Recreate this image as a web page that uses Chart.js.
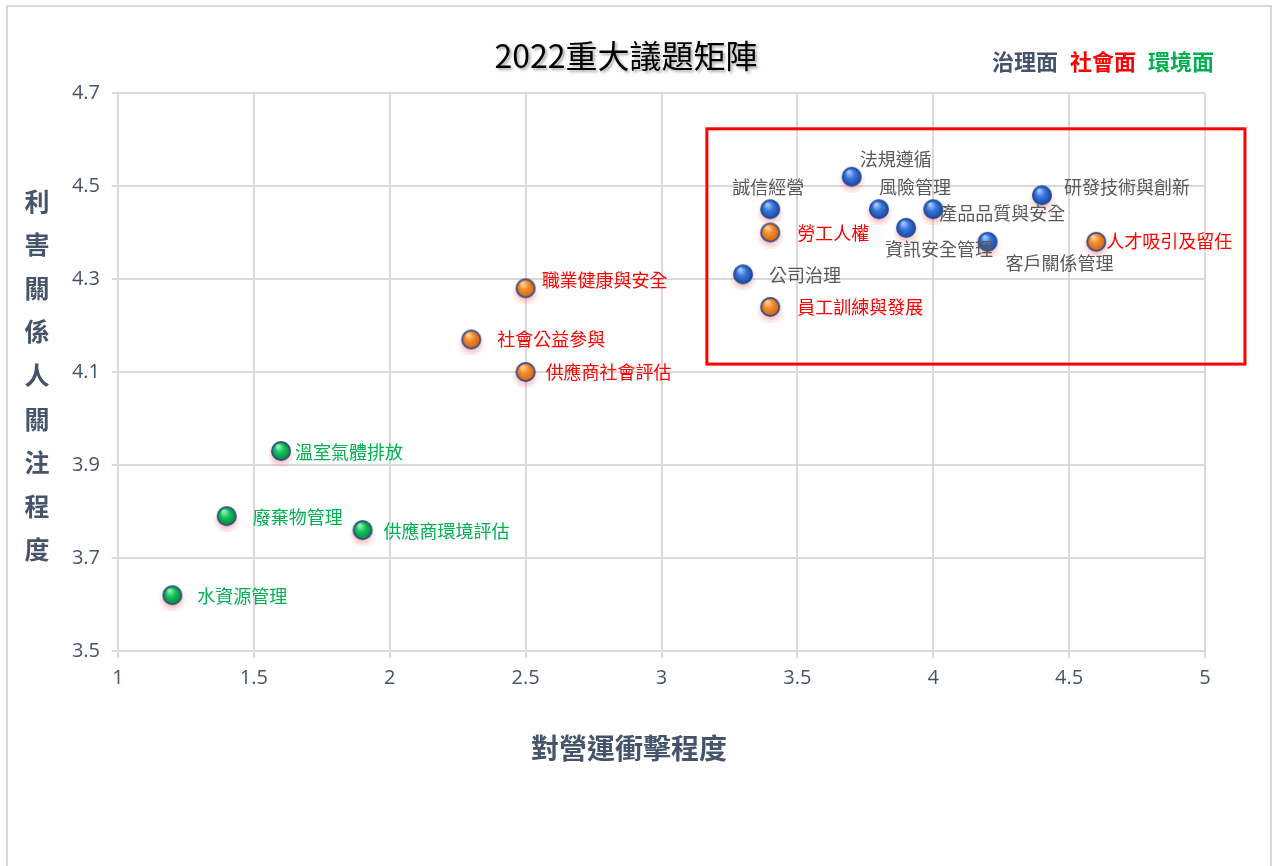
<!DOCTYPE html>
<html lang="zh-Hant">
  <head>
    <meta charset="UTF-8">
    <title>2022重大議題矩陣</title>
    <script src="https://cdn.jsdelivr.net/npm/chart.js"></script>
    <style>
      html, body { margin: 0; padding: 0; background: #fff; }
      #frame {
        position: absolute; left: 6px; top: 5px; width: 1266px; height: 880px;
        border: 2px solid #d9d9d9; box-sizing: border-box;
      }
      #wrap { position: absolute; left: 0; top: 0; width: 1277px; height: 866px; }
    </style>
  </head>
  <body>
    <div id="frame"></div>
    <div id="wrap"><canvas id="matrix" width="1277" height="866"></canvas></div>

    <script>
      // 治理面
      const govNames = ["法規遵循", "誠信經營", "風險管理", "產品品質與安全", "資訊安全管理", "研發技術與創新", "客戶關係管理", "公司治理"];
      const govImpact = [3.7, 3.4, 3.8, 4.0, 3.9, 4.4, 4.2, 3.3];
      const govConcern = [4.52, 4.45, 4.45, 4.45, 4.41, 4.48, 4.38, 4.31];

      // 社會面
      const socNames = ["勞工人權", "人才吸引及留任", "員工訓練與發展", "職業健康與安全", "社會公益參與", "供應商社會評估"];
      const socImpact = [3.4, 4.6, 3.4, 2.5, 2.3, 2.5];
      const socConcern = [4.40, 4.38, 4.24, 4.28, 4.17, 4.10];

      // 環境面
      const envNames = ["溫室氣體排放", "廢棄物管理", "供應商環境評估", "水資源管理"];
      const envImpact = [1.6, 1.4, 1.9, 1.2];
      const envConcern = [3.93, 3.79, 3.76, 3.62];

      const xTicks = [1, 1.5, 2, 2.5, 3, 3.5, 4, 4.5, 5];
      const yTicks = [3.5, 3.7, 3.9, 4.1, 4.3, 4.5, 4.7];

      // highlighted block (impact / concern range)
      const focusBox = { x1: 3.167, x2: 5.147, y1: 4.117, y2: 4.623 };

      const AXIS = "#44546a";
      const CJK = '"Noto Sans CJK TC", "Noto Sans", sans-serif';

      // label placement relative to the marker: [dx, dy, align]
      const labelPos = {
        "法規遵循": [8, -18, "left"],
        "誠信經營": [-2, -22, "center"],
        "風險管理": [0, -22, "left"],
        "產品品質與安全": [6, 4, "left"],
        "資訊安全管理": [-21, 21, "left"],
        "研發技術與創新": [22, -8, "left"],
        "客戶關係管理": [18, 21, "left"],
        "公司治理": [26, 1, "left"],
        "勞工人權": [27, 1, "left"],
        "人才吸引及留任": [10, -1, "left"],
        "員工訓練與發展": [27, 0, "left"],
        "職業健康與安全": [16, -8, "left"],
        "社會公益參與": [26, 0, "left"],
        "供應商社會評估": [20, 0, "left"],
        "溫室氣體排放": [14, 1, "left"],
        "廢棄物管理": [26, 1, "left"],
        "供應商環境評估": [21, 1, "left"],
        "水資源管理": [25, 1, "left"]
      };

      function makeBall(light, mid, dark, rim) {
        const c = document.createElement("canvas");
        c.width = 32; c.height = 32;
        const g = c.getContext("2d");
        const glow = g.createRadialGradient(16, 20, 3, 16, 20, 14);
        glow.addColorStop(0, "rgba(255,110,110,0.55)");
        glow.addColorStop(1, "rgba(255,110,110,0)");
        g.fillStyle = glow;
        g.fillRect(0, 0, 32, 32);
        g.beginPath();
        g.arc(16, 16, 10, 0, Math.PI * 2);
        g.fillStyle = rim;
        g.fill();
        const inner = g.createRadialGradient(13, 11, 1, 16, 16, 9);
        inner.addColorStop(0, light);
        inner.addColorStop(0.45, mid);
        inner.addColorStop(1, dark);
        g.beginPath();
        g.arc(16, 16, rim === dark ? 9.3 : 8.3, 0, Math.PI * 2);
        g.fillStyle = inner;
        g.fill();
        return c;
      }

      const blueBall = makeBall("#a8c8ff", "#3a78dc", "#1c4a9e", "#1c4a9e");
      const orangeBall = makeBall("#ffd19a", "#f28c2c", "#cf6510", "#2b4c8c");
      const greenBall = makeBall("#8ff5b4", "#17c35c", "#08883a", "#2b4c8c");

      function pts(xs, ys, names) {
        return xs.map((x, i) => ({ x: x, y: ys[i], name: names[i] }));
      }

      const decorations = {
        id: "decorations",
        beforeDatasetsDraw(chart) {
          const { ctx, scales: { x, y } } = chart;
          ctx.save();
          ctx.strokeStyle = "#ff0000";
          ctx.lineWidth = 3;
          const l = x.getPixelForValue(focusBox.x1), r = x.getPixelForValue(focusBox.x2);
          const t = y.getPixelForValue(focusBox.y2), b = y.getPixelForValue(focusBox.y1);
          ctx.strokeRect(l, t, r - l, b - t);
          ctx.restore();
        },
        afterDatasetsDraw(chart) {
          const { ctx } = chart;
          ctx.save();
          ctx.font = "18px " + CJK;
          ctx.textBaseline = "middle";
          chart.data.datasets.forEach((ds, di) => {
            const meta = chart.getDatasetMeta(di);
            ctx.fillStyle = ds.labelColor;
            meta.data.forEach((el, i) => {
              const name = ds.data[i].name;
              const p = labelPos[name] || [14, 0, "left"];
              ctx.textAlign = p[2];
              ctx.fillText(name, el.x + p[0], el.y + p[1]);
            });
          });
          ctx.restore();
        },
        afterDraw(chart) {
          const { ctx } = chart;
          ctx.save();
          // title
          ctx.font = "32px " + CJK;
          ctx.textAlign = "center";
          ctx.textBaseline = "middle";
          ctx.shadowColor = "rgba(0,0,0,0.35)";
          ctx.shadowOffsetX = 2;
          ctx.shadowOffsetY = 2;
          ctx.shadowBlur = 3;
          ctx.fillStyle = "#000";
          ctx.fillText("2022重大議題矩陣", 626, 56);
          ctx.shadowColor = "transparent";
          // legend words
          ctx.font = "bold 22px " + CJK;
          ctx.textAlign = "left";
          [["治理面", AXIS, 992], ["社會面", "#ff0000", 1070], ["環境面", "#00b050", 1148]].forEach(w => {
            ctx.fillStyle = w[1];
            ctx.fillText(w[0], w[2], 62);
          });
          // x-axis title
          ctx.font = "bold 28px " + CJK;
          ctx.textAlign = "center";
          ctx.fillStyle = AXIS;
          ctx.fillText("對營運衝擊程度", 629, 748);
          // vertical y-axis title
          ctx.font = "bold 25px " + CJK;
          Array.from("利害關係人關注程度").forEach((ch, i) => {
            ctx.fillText(ch, 37, 201 + i * 43.6);
          });
          ctx.restore();
        }
      };

      new Chart(document.getElementById("matrix"), {
        type: "scatter",
        data: {
          datasets: [
            { label: "治理面", data: pts(govImpact, govConcern, govNames), pointStyle: blueBall, labelColor: "#595959" },
            { label: "社會面", data: pts(socImpact, socConcern, socNames), pointStyle: orangeBall, labelColor: "#ff0000" },
            { label: "環境面", data: pts(envImpact, envConcern, envNames), pointStyle: greenBall, labelColor: "#00b050" }
          ]
        },
        options: {
          responsive: false,
          animation: false,
          layout: { padding: { left: 0, top: 93, right: 72, bottom: 0 } },
          plugins: { legend: { display: false }, tooltip: { enabled: false }, title: { display: false } },
          scales: {
            x: {
              type: "linear", min: 1, max: 5,
              afterBuildTicks: s => { s.ticks = xTicks.map(v => ({ value: v })); },
              afterFit: s => { s.height = 215; },
              ticks: {
                color: AXIS, font: { family: '"Open Sans", sans-serif', size: 20 }, padding: 8,
                callback: v => String(v)
              },
              grid: { color: "#d9d9d9", lineWidth: 2, tickLength: 7, tickColor: "#d9d9d9" },
              border: { color: "#d9d9d9", width: 2 }
            },
            y: {
              type: "linear", min: 3.5, max: 4.7,
              afterBuildTicks: s => { s.ticks = yTicks.map(v => ({ value: v })); },
              afterFit: s => { s.width = 118; },
              ticks: {
                color: AXIS, font: { family: '"Open Sans", sans-serif', size: 20 }, padding: 12,
                callback: v => v.toFixed(1)
              },
              grid: { color: "#d9d9d9", lineWidth: 2, tickLength: 6, tickColor: "#d9d9d9" },
              border: { color: "#d9d9d9", width: 2 }
            }
          }
        },
        plugins: [decorations]
      });
    </script>
  </body>
</html>
